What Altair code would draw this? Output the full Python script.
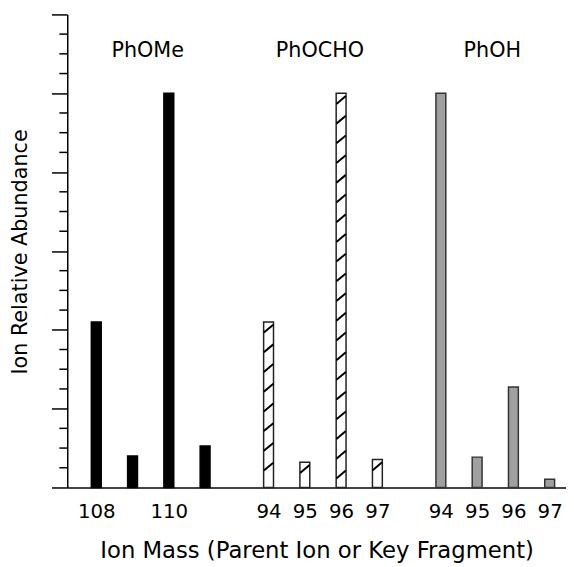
import altair as alt
import pandas as pd

# ---- data ----
groups = ["PhOMe", "PhOCHO", "PhOH"]
phome_masses = ["108", "109", "110", "111"]
phome_labels = ["108", "", "110", ""]
phome_values = [42, 8, 100, 10.5]
phocho_masses = ["94", "95", "96", "97"]
phocho_labels = ["94", "95", "96", "97"]
phocho_values = [42, 6.4, 100, 7.1]
phoh_masses = ["94", "95", "96", "97"]
phoh_labels = ["94", "95", "96", "97"]
phoh_values = [100, 7.7, 25.5, 2.1]
minor_ticks = [v for v in range(0, 121, 5) if v % 20 != 0]
major_ticks = list(range(0, 121, 20))

GROUP_STEP = 4.75  # slot units between first bars of consecutive groups
FONT = "DejaVu Sans"

rows = []
for g, (name, masses, labels, vals) in enumerate([
        ("PhOMe", phome_masses, phome_labels, phome_values),
        ("PhOCHO", phocho_masses, phocho_labels, phocho_values),
        ("PhOH", phoh_masses, phoh_labels, phoh_values)]):
    for i, (m, lab, v) in enumerate(zip(masses, labels, vals)):
        rows.append({"group": name, "mass": m, "label": lab,
                     "pos": g * GROUP_STEP + i, "value": v})
df = pd.DataFrame(rows)

# hatch strokes for the PhOCHO bars, derived from the bar heights
half = 0.13
hatch = []
for r in rows:
    if r["group"] != "PhOCHO":
        continue
    top = r["value"] - 0.7
    while top - 2.0 > 0.4:
        hatch.append({"x1": r["pos"] - half, "x2": r["pos"] + half,
                      "y1": top - 2.0, "y2": top})
        top -= 5.0
hatch_df = pd.DataFrame(hatch)

# group captions
cap_df = pd.DataFrame({"group": groups,
                       "pos": [df[df.group == g].pos.mean() for g in groups]})

minor_df = pd.DataFrame({"tick": minor_ticks})

label_map = {r["pos"]: r["label"] for r in rows if r["label"]}
label_values = list(label_map.keys())
label_expr = " : ".join(
    [f"abs(datum.value - {p}) < 0.01 ? '{l}'" for p, l in label_map.items()]
) + " : ''"

xscale = alt.Scale(domain=[-0.8, 12.95], nice=False, zero=False, padding=0)
yscale = alt.Scale(domain=[0, 120], nice=False, padding=0)

xaxis = alt.Axis(values=label_values, labelExpr=label_expr, ticks=False,
                 grid=False, domainColor="#444", domainWidth=2,
                 labelFont=FONT, labelFontSize=20, labelColor="black",
                 labelPadding=14, labelFlush=False, labelOverlap=False,
                 title="Ion Mass (Parent Ion or Key Fragment)",
                 titleFont=FONT, titleFontSize=23, titleFontWeight="normal",
                 titleColor="black", titleBaseline="middle", titleY=64)
yaxis = alt.Axis(values=major_ticks, labels=False, grid=False,
                 domainColor="black", domainWidth=1.5,
                 tickColor="black", tickWidth=1.5, tickSize=16,
                 title="Ion Relative Abundance", titleFont=FONT,
                 titleFontSize=21, titleFontWeight="normal", titleColor="black",
                 titleAngle=-90, titleAlign="center", titleBaseline="middle",
                 titleX=-47, titleY=240)

bars = alt.Chart(df).mark_bar(size=10, strokeWidth=1.5).encode(
    x=alt.X("pos:Q", scale=xscale, axis=xaxis),
    y=alt.Y("value:Q", scale=yscale, axis=yaxis),
    fill=alt.Fill("group:N", legend=None,
                  scale=alt.Scale(domain=groups, range=["black", "white", "#a0a0a0"])),
    stroke=alt.Stroke("group:N", legend=None,
                      scale=alt.Scale(domain=groups, range=["black", "#222", "#333"])),
)

hatches = alt.Chart(hatch_df).mark_rule(color="black", strokeWidth=2).encode(
    x=alt.X("x1:Q", scale=xscale),
    x2="x2:Q",
    y=alt.Y("y1:Q", scale=yscale),
    y2="y2:Q",
)

minor = alt.Chart(minor_df).mark_rule(color="black", strokeWidth=1.5).encode(
    x=alt.value(-8), x2=alt.value(0),
    y=alt.Y("tick:Q", scale=yscale),
)

captions = alt.Chart(cap_df).mark_text(
    font=FONT, fontSize=21, color="black", baseline="middle", dx=-3
).encode(
    x=alt.X("pos:Q", scale=xscale),
    y=alt.value(37),
    text="group:N",
)

chart = alt.layer(bars, hatches, minor, captions).properties(
    width=505, height=479,
    padding={"left": 60, "top": 3, "right": 0, "bottom": 76},
    autosize=alt.AutoSizeParams(type="none"),
).configure_view(stroke=None, clip=False)

chart.save("out.html", embed_options={"renderer": "svg", "actions": False})
